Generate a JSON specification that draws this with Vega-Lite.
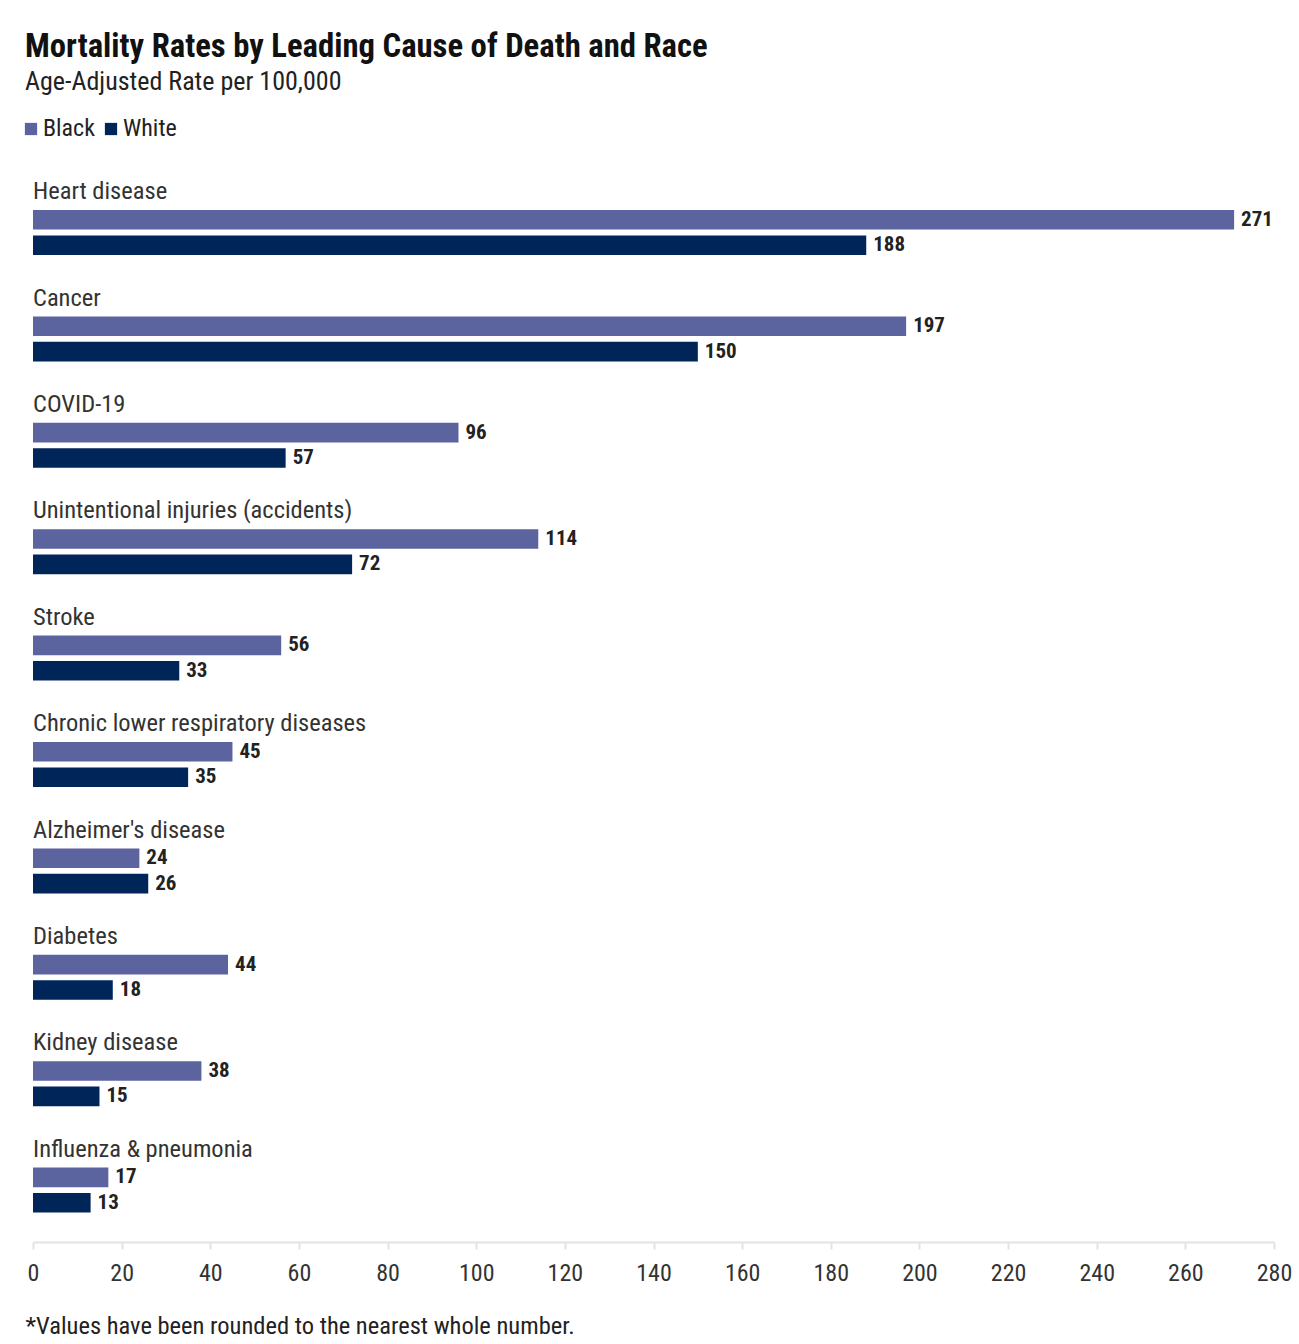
{
  "$schema": "https://vega.github.io/schema/vega-lite/v6.json",
  "width": 1241,
  "height": 1064,
  "autosize": {"type": "none"},
  "padding": {"left": 33, "top": 178, "right": 25, "bottom": 102},
  "background": "white",
  "title": {
    "text": "Mortality Rates by Leading Cause of Death and Race",
    "subtitle": "Age-Adjusted Rate per 100,000",
    "anchor": "start",
    "frame": "group",
    "dx": -8,
    "offset": 22,
    "font": "Roboto Condensed, Liberation Sans Narrow, Roboto",
    "fontSize": 32.7,
    "fontWeight": "bold",
    "color": "#111111",
    "subtitleFont": "Roboto Condensed, Liberation Sans Narrow, Roboto",
    "subtitleFontSize": 26,
    "subtitleColor": "#222222",
    "subtitlePadding": 5
  },
  "config": {
    "view": {"stroke": null},
    "font": "Roboto Condensed, Liberation Sans Narrow, Roboto"
  },
  "data": {
    "values": [
      {"cause": "Heart disease", "race": "Black", "rate": 271},
      {"cause": "Heart disease", "race": "White", "rate": 188},
      {"cause": "Cancer", "race": "Black", "rate": 197},
      {"cause": "Cancer", "race": "White", "rate": 150},
      {"cause": "COVID-19", "race": "Black", "rate": 96},
      {"cause": "COVID-19", "race": "White", "rate": 57},
      {"cause": "Unintentional injuries (accidents)", "race": "Black", "rate": 114},
      {"cause": "Unintentional injuries (accidents)", "race": "White", "rate": 72},
      {"cause": "Stroke", "race": "Black", "rate": 56},
      {"cause": "Stroke", "race": "White", "rate": 33},
      {"cause": "Chronic lower respiratory diseases", "race": "Black", "rate": 45},
      {"cause": "Chronic lower respiratory diseases", "race": "White", "rate": 35},
      {"cause": "Alzheimer's disease", "race": "Black", "rate": 24},
      {"cause": "Alzheimer's disease", "race": "White", "rate": 26},
      {"cause": "Diabetes", "race": "Black", "rate": 44},
      {"cause": "Diabetes", "race": "White", "rate": 18},
      {"cause": "Kidney disease", "race": "Black", "rate": 38},
      {"cause": "Kidney disease", "race": "White", "rate": 15},
      {"cause": "Influenza & pneumonia", "race": "Black", "rate": 17},
      {"cause": "Influenza & pneumonia", "race": "White", "rate": 13}
    ]
  },
  "encoding": {
    "y": {"field": "cause", "type": "nominal", "sort": null, "axis": null,
          "scale": {"paddingInner": 0, "paddingOuter": 0}}
  },
  "layer": [
    {
      "mark": {"type": "bar"},
      "encoding": {
        "x": {"field": "rate", "type": "quantitative",
              "scale": {"domain": [0, 280], "nice": false},
              "axis": {
                "values": [0, 20, 40, 60, 80, 100, 120, 140, 160, 180, 200, 220, 240, 260, 280],
                "grid": false,
                "domainColor": "#e3e3e3",
                "domainWidth": 2,
                "tickColor": "#e3e3e3",
                "tickWidth": 2,
                "tickSize": 7,
                "labelFontSize": 24,
                "labelColor": "#333333",
                "labelPadding": 12,
                "labelFlush": false,
                "title": "*Values have been rounded to the nearest whole number.",
                "titleFontSize": 24.5,
                "titleFontWeight": "normal",
                "titleColor": "#222222",
                "titleAlign": "left",
                "titleAnchor": "start",
                "titleX": -8,
                "titleY": 84,
                "titleBaseline": "middle"
              }},
        "yOffset": {"field": "race", "type": "nominal",
                    "scale": {"range": [32, 77], "paddingInner": 0.23, "paddingOuter": 0}},
        "color": {"field": "race", "type": "nominal",
                  "scale": {"domain": ["Black", "White"], "range": ["#5c64a0", "#002659"]},
                  "legend": {
                    "title": null,
                    "orient": "none",
                    "legendX": -14,
                    "legendY": -61,
                    "direction": "horizontal",
                    "symbolType": "square",
                    "symbolSize": 150,
                    "symbolStrokeWidth": 0,
                    "labelFontSize": 24,
                    "labelColor": "#222222",
                    "labelOffset": 0,
                    "columnPadding": 3
                  }}
      }
    },
    {
      "mark": {"type": "text", "align": "left", "baseline": "middle", "dx": 7,
               "fontSize": 21, "fontWeight": "bold", "color": "#222222"},
      "encoding": {
        "x": {"field": "rate", "type": "quantitative"},
        "yOffset": {"field": "race", "type": "nominal"},
        "text": {"field": "rate", "type": "quantitative"}
      }
    },
    {
      "transform": [{"filter": "datum.race === 'Black'"}],
      "mark": {"type": "text", "align": "left", "baseline": "middle", "dy": -39,
               "fontSize": 24.5, "color": "#333333"},
      "encoding": {
        "x": {"datum": 0, "type": "quantitative"},
        "text": {"field": "cause", "type": "nominal"}
      }
    }
  ]
}
